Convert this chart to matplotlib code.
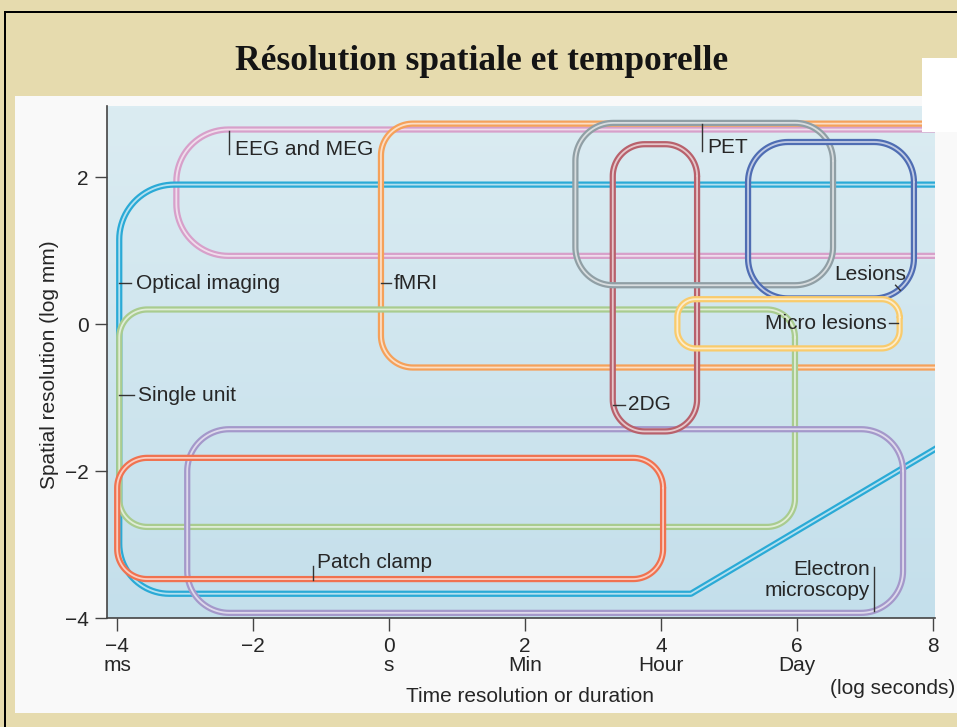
import numpy as np
import matplotlib.pyplot as plt
from matplotlib.patches import Rectangle
from matplotlib.colors import LinearSegmentedColormap

# Techniques: time range (log s) and spatial range (log mm)
names = ['EEG and MEG', 'fMRI', 'Single unit', 'Patch clamp', 'Electron microscopy',
         '2DG', 'PET', 'Lesions', 'Micro lesions']
t_min = [-3.13, -0.12, -3.97, -4.00, -2.97, 3.29, 2.74, 5.28, 4.24]
t_max = [9.50, 9.50, 5.97, 4.03, 7.56, 4.53, 6.53, 7.72, 7.51]
s_min = [0.93, -0.59, -2.76, -3.47, -3.93, -1.46, 0.53, 0.35, -0.33]
s_max = [2.65, 2.73, 0.20, -1.82, -1.43, 2.45, 2.74, 2.48, 0.34]

# Optical imaging: open shape with a sloped right side
optical_tmin, optical_smax, optical_smin = -3.97, 1.90, -3.67
optical_knee = 4.44
optical_edge = (8.03, -1.70)

xticks = [-4, -2, 0, 2, 4, 6, 8]
xticklabels = ['\u22124\nms', '\u22122', '0\ns', '2\nMin', '4\nHour', '6\nDay', '8']
yticks = [-4, -2, 0, 2]
yticklabels = ['\u22124', '\u22122', '0', '2']

colors = {
    'EEG and MEG': '#d7a0ca', 'fMRI': '#f5a15a', 'Single unit': '#a9cc8f',
    'Patch clamp': '#f07250', 'Electron microscopy': '#a498ca', '2DG': '#b8616c',
    'PET': '#909fa5', 'Lesions': '#4f6db3', 'Micro lesions': '#f9cb6c',
    'Optical imaging': '#2aaad6',
}
radius = {
    'EEG and MEG': 52, 'fMRI': 32, 'Single unit': 28, 'Patch clamp': 30,
    'Electron microscopy': 42, '2DG': 32, 'PET': 38, 'Lesions': 40, 'Micro lesions': 18,
}
order = ['EEG and MEG', 'Optical imaging', 'fMRI', 'Single unit', 'Electron microscopy',
         'Patch clamp', '2DG', 'PET', 'Lesions', 'Micro lesions']

W, H = 957, 727
XLIM = (-4.15, 8.03)
YLIM = (-4.0, 2.97)
AX = (107, 106, 935, 618)  # left, top, right, bottom in pixels

fig = plt.figure(figsize=(W / 100, H / 100), dpi=100)
fig.patch.set_facecolor('#e6dbae')


def frect(x0, y0, x1, y1, z=-5, **kw):
    fig.add_artist(Rectangle((x0 / W, 1 - y1 / H), (x1 - x0) / W, (y1 - y0) / H,
                             transform=fig.transFigure, zorder=z, **kw))


# slide frame and white panel
frect(4, 11, W + 5, 13, facecolor='black', edgecolor='none')
frect(4, 11, 6, H + 5, facecolor='black', edgecolor='none')
frect(15, 96, W + 5, 713, facecolor='#f9f9f9', edgecolor='none')

fig.text(482 / W, 1 - 62 / H, 'Résolution spatiale et temporelle',
         fontfamily='Liberation Serif', fontweight='bold', fontsize=25.5,
         ha='center', va='center', color='#141414')

ax = fig.add_axes([AX[0] / W, 1 - AX[3] / H, (AX[2] - AX[0]) / W, (AX[3] - AX[1]) / H])
ax.patch.set_alpha(0)
px_x = (AX[2] - AX[0]) / (XLIM[1] - XLIM[0])
px_y = (AX[3] - AX[1]) / (YLIM[1] - YLIM[0])

cmap = LinearSegmentedColormap.from_list('bg', ['#c4dfeb', '#dbecf2'])
grad = np.linspace(0, 1, 256).reshape(-1, 1)
ax.imshow(grad, extent=[0, 1, 0, 1], transform=ax.transAxes, origin='lower',
          aspect='auto', cmap=cmap, zorder=0)


def arc(cx, cy, r, a0, a1):
    t = np.linspace(np.radians(a0), np.radians(a1), 24)
    return list(zip(cx + r / px_x * np.cos(t), cy + r / px_y * np.sin(t)))


def box_path(x0, x1, y0, y1, r, open_right):
    rx, ry = r / px_x, r / px_y
    tl = arc(x0 + rx, y1 - ry, r, 90, 180)
    bl = arc(x0 + rx, y0 + ry, r, 180, 270)
    if open_right:
        return [(x1, y1)] + tl + bl + [(x1, y0)]
    tr = arc(x1 - rx, y1 - ry, r, 0, 90)
    br = arc(x1 - rx, y0 + ry, r, 270, 360)
    pts = tr + tl + bl + br
    return pts + [pts[0]]


def draw(pts, c, z):
    xs, ys = zip(*pts)
    kw = dict(solid_capstyle='round', solid_joinstyle='round', zorder=z)
    ax.plot(xs, ys, color=c, lw=4.5, **kw)
    ax.plot(xs, ys, color='white', lw=1.3, alpha=0.65, **kw)


paths = {}
for i, n in enumerate(names):
    paths[n] = box_path(t_min[i], t_max[i], s_min[i], s_max[i], radius[n], t_max[i] > XLIM[1])

slope = (optical_edge[1] - optical_smin) / (optical_edge[0] - optical_knee)
opt = [(9.5, optical_smax)]
opt += arc(optical_tmin + 55 / px_x, optical_smax - 55 / px_y, 55, 90, 180)
opt += arc(optical_tmin + 50 / px_x, optical_smin + 50 / px_y, 50, 180, 270)
opt += [(optical_knee, optical_smin), (9.5, optical_smin + slope * (9.5 - optical_knee))]
paths['Optical imaging'] = opt

for z, n in enumerate(order):
    draw(paths[n], colors[n], 2 + z)

# labels with small leader marks
tc = '#262626'
fs = 15
lab = dict(fontfamily='Liberation Sans', fontsize=fs, color=tc, zorder=20)
lk = dict(color='#333333', lw=1.0, zorder=20)
ax.text(-2.26, 2.38, 'EEG and MEG', ha='left', va='center', **lab)
ax.plot([-2.35, -2.35], [2.63, 2.31], **lk)
ax.text(4.68, 2.40, 'PET', ha='left', va='center', **lab)
ax.plot([4.60, 4.60], [2.73, 2.36], **lk)
ax.text(-3.72, 0.56, 'Optical imaging', ha='left', va='center', **lab)
ax.plot([-3.97, -3.79], [0.56, 0.56], **lk)
ax.text(0.07, 0.56, 'fMRI', ha='left', va='center', **lab)
ax.plot([-0.12, 0.03], [0.56, 0.56], **lk)
ax.text(7.60, 0.68, 'Lesions', ha='right', va='center', **lab)
ax.plot([7.45, 7.52], [0.53, 0.46], **lk)
ax.text(7.32, 0.01, 'Micro lesions', ha='right', va='center', **lab)
ax.plot([7.35, 7.49], [0.01, 0.01], **lk)
ax.text(-3.69, -0.97, 'Single unit', ha='left', va='center', **lab)
ax.plot([-3.97, -3.76], [-0.97, -0.97], **lk)
ax.text(3.51, -1.10, '2DG', ha='left', va='center', **lab)
ax.plot([3.29, 3.47], [-1.10, -1.10], **lk)
ax.text(-1.06, -3.24, 'Patch clamp', ha='left', va='center', **lab)
ax.plot([-1.12, -1.12], [-3.29, -3.48], **lk)
ax.text(7.07, -3.48, 'Electron\nmicroscopy', ha='right', va='center',
        linespacing=1.1, **lab)
ax.plot([7.13, 7.13], [-3.31, -3.90], **lk)

ax.set_xlim(*XLIM)
ax.set_ylim(*YLIM)
ax.set_xticks(xticks)
ax.set_xticklabels(xticklabels, fontfamily='Liberation Sans', fontsize=fs,
                   color=tc, linespacing=1.0)
ax.set_yticks(yticks)
ax.set_yticklabels(yticklabels, fontfamily='Liberation Sans', fontsize=fs, color=tc)
ax.tick_params(direction='out', length=9, width=1.0, color='#444444', pad=4)
ax.tick_params(axis='x', pad=5)
for s in ['top', 'right']:
    ax.spines[s].set_visible(False)
for s in ['left', 'bottom']:
    ax.spines[s].set_color('#444444')
    ax.spines[s].set_linewidth(1.2)

fig.text(530 / W, 1 - 697 / H, 'Time resolution or duration', ha='center', va='center',
         fontfamily='Liberation Sans', fontsize=fs, color=tc)
fig.text(893 / W, 1 - 689 / H, '(log seconds)', ha='center', va='center',
         fontfamily='Liberation Sans', fontsize=fs, color=tc)
fig.text(50 / W, 1 - 365 / H, 'Spatial resolution (log mm)', ha='center', va='center',
         rotation=90, fontfamily='Liberation Sans', fontsize=fs, color=tc)

# stray white block at top right of the slide
frect(922, 58, W + 5, 132, z=30, facecolor='white', edgecolor='none')

fig.savefig('out.png', dpi=100, facecolor=fig.get_facecolor())
